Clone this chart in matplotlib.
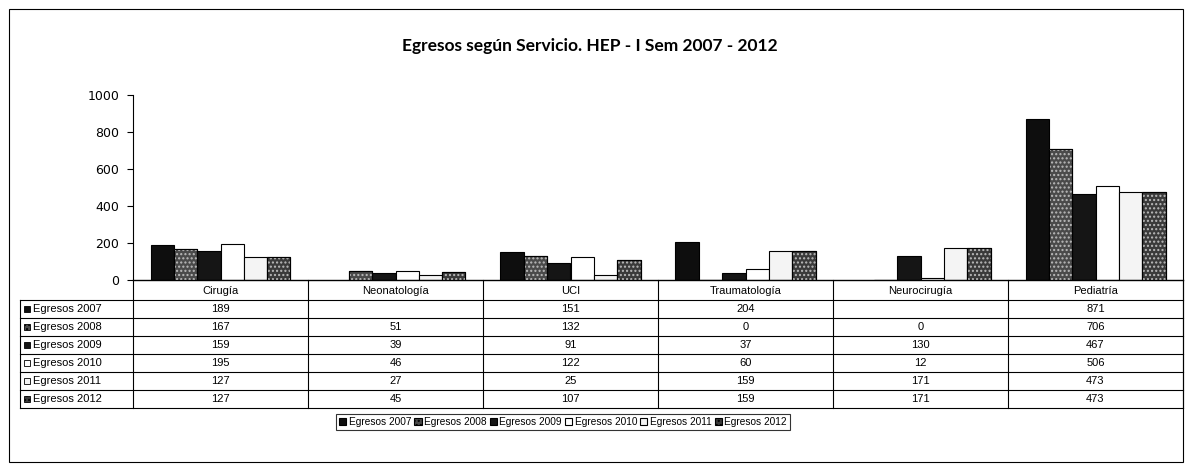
import numpy as np
import matplotlib
matplotlib.use("Agg")
import matplotlib.pyplot as plt
from matplotlib.patches import Rectangle

categories = ["Cirugía", "Neonatología", "UCI", "Traumatología", "Neurocirugía", "Pediatría"]
series_names = ["Egresos 2007", "Egresos 2008", "Egresos 2009", "Egresos 2010", "Egresos 2011", "Egresos 2012"]
egresos_2007 = [189, None, 151, 204, None, 871]
egresos_2008 = [167, 51, 132, 0, 0, 706]
egresos_2009 = [159, 39, 91, 37, 130, 467]
egresos_2010 = [195, 46, 122, 60, 12, 506]
egresos_2011 = [127, 27, 25, 159, 171, 473]
egresos_2012 = [127, 45, 107, 159, 171, 473]
series_values = [egresos_2007, egresos_2008, egresos_2009, egresos_2010, egresos_2011, egresos_2012]
yticks = [0, 200, 400, 600, 800, 1000]
title = "Egresos según Servicio. HEP - I Sem 2007 - 2012"

face = ["#0e0e0e", "#4a4a4a", "#151515", "#ffffff", "#f4f4f4", "#3a3a3a"]
hatches = [None, "....", None, None, None, "...."]

W, H = 1192, 471
fig = plt.figure(figsize=(W / 100, H / 100), dpi=100)
fig.patch.set_facecolor("white")

def fx(px):
    return px / W

def fy(py):
    return 1 - py / H

L, R, T, B = 133, 1183, 95, 280
ax = fig.add_axes([fx(L), fy(B), fx(R) - fx(L), fy(T) - fy(B)])
ncat = len(categories)
ax.set_xlim(0, ncat)
ax.set_ylim(0, 1000)
w = 1 / 7.5
x = np.arange(ncat) + 0.5
handles = []
for j, vals in enumerate(series_values):
    v = np.array([np.nan if a is None else a for a in vals], dtype=float)
    pos = x + (j - 2.5) * w
    ax.bar(pos, v, width=w, color=face[j], edgecolor="black", linewidth=0.8, zorder=2)
    if hatches[j]:
        ax.bar(pos, v, width=w, facecolor="none", edgecolor="#bbbbbb", hatch=hatches[j],
               linewidth=0, zorder=3)
        ax.bar(pos, v, width=w, facecolor="none", edgecolor="black", linewidth=0.8, zorder=4)
    handles.append(Rectangle((0, 0), 1, 1, facecolor=face[j], edgecolor="black", linewidth=0.8,
                             hatch=hatches[j]))
ax.set_yticks(yticks)
ax.set_yticklabels([str(t) for t in yticks], fontsize=9, family=["DejaVu Sans"])
ax.tick_params(axis="y", length=4, width=0.8, pad=6, direction="out")
ax.set_xticks([])
for s in ["top", "right"]:
    ax.spines[s].set_visible(False)
ax.spines["left"].set_linewidth(0.8)
ax.spines["bottom"].set_linewidth(1.0)

fig.text(fx(590), fy(46), title, ha="center", va="center", fontsize=12.5, family=["Lato", "DejaVu Sans"],
         fontweight="bold")

# Table
ov = fig.add_axes([0, 0, 1, 1], zorder=5)
ov.set_xlim(0, W)
ov.set_ylim(H, 0)
ov.axis("off")
ov.patch.set_alpha(0)

colw = (R - L) / ncat
col_edges = [L + i * colw for i in range(ncat + 1)]
row_edges = [300 + 18 * i for i in range(len(series_names) + 1)]
TL = 20
lw = 0.8
for xe in col_edges:
    ov.plot([xe, xe], [B, row_edges[-1]], color="black", lw=lw)
ov.plot([TL, TL], [row_edges[0], row_edges[-1]], color="black", lw=lw)
for ye in row_edges:
    ov.plot([TL, R], [ye, ye], color="black", lw=lw)
tf = dict(family=["Liberation Sans", "DejaVu Sans"], fontsize=8)
for i, c in enumerate(categories):
    ov.text((col_edges[i] + col_edges[i + 1]) / 2, 291, c, ha="center", va="center", **tf)
for r, name in enumerate(series_names):
    yc = (row_edges[r] + row_edges[r + 1]) / 2
    ov.add_patch(Rectangle((24, yc - 3), 6, 6, facecolor=face[r], edgecolor="black", lw=0.6,
                           hatch=hatches[r]))
    ov.text(33, yc, name, ha="left", va="center", **tf)
    for i, v in enumerate(series_values[r]):
        if v is not None:
            ov.text((col_edges[i] + col_edges[i + 1]) / 2, yc, str(v), ha="center", va="center", **tf)

# Outer border
ov.add_patch(Rectangle((9, 9), 1174, 453, facecolor="none", edgecolor="black", lw=0.8))

leg = fig.legend(handles, series_names, loc="center", bbox_to_anchor=(fx(563), fy(422)), ncol=6,
                 frameon=True, fancybox=False, edgecolor="black", handlelength=0.7, handleheight=0.7,
                 handletextpad=0.25, columnspacing=0.3, borderpad=0.3,
                 prop={"family": ["Liberation Sans", "DejaVu Sans"], "size": 7.3})
leg.get_frame().set_linewidth(0.8)

fig.savefig("out.png", dpi=100)
